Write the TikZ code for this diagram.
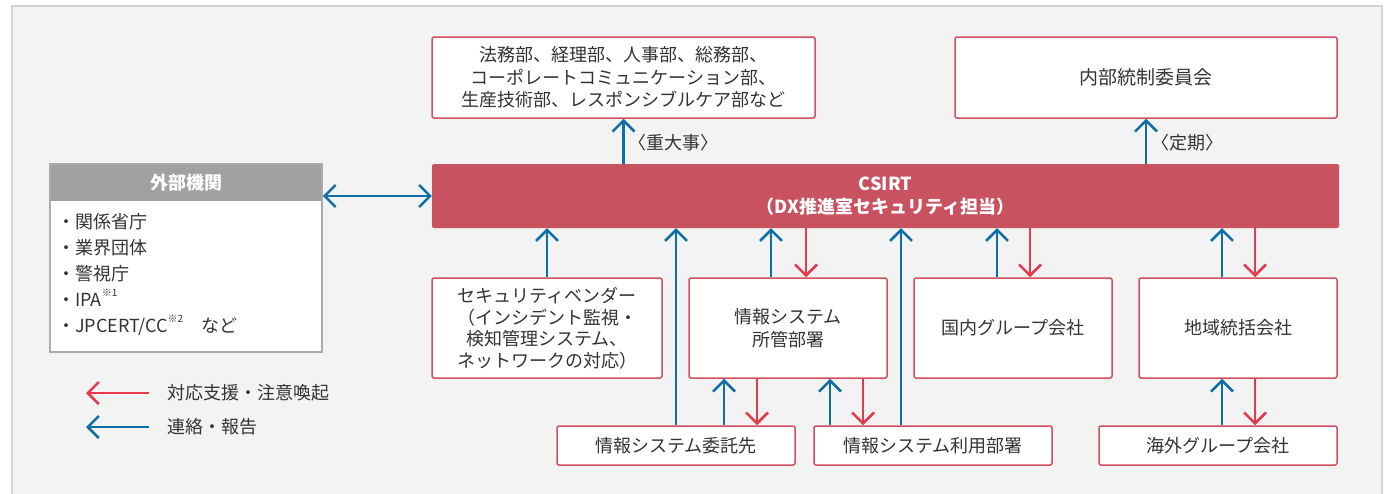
\documentclass[tikz,border=0pt]{standalone}
\usepackage{fontspec}
\setmainfont{Noto Sans CJK JP}
\usetikzlibrary{arrows.meta,calc}
\definecolor{panel}{HTML}{F3F3F3}
\definecolor{panelborder}{HTML}{D4D4D4}
\definecolor{boxred}{HTML}{D24F5F}
\definecolor{csirtfill}{HTML}{C95260}
\definecolor{arrred}{HTML}{E63A4F}
\definecolor{arrblue}{HTML}{1070A5}
\definecolor{hdrgray}{HTML}{A0A1A0}
\definecolor{gborder}{HTML}{ABABAB}
\definecolor{txt}{HTML}{333333}
\newcommand{\supnote}[1]{\raisebox{0.55em}{\fontsize{10}{10}\selectfont #1}}
\begin{document}
\begin{tikzpicture}[x=1pt,y=-1pt,
  box/.style={draw=boxred, line width=1.5pt, fill=white, rounded corners=2pt,
    align=center, text=txt, font=\fontsize{18}{22.5}\selectfont, inner sep=0pt},
  blu/.style={draw=arrblue, line width=2.5pt, -{Straight Barb[length=11pt,width=22pt]}},
  rd/.style={draw=arrred, line width=2.5pt, -{Straight Barb[length=11pt,width=22pt]}},
  lbl/.style={text=txt, font=\fontsize{18}{22}\selectfont, inner sep=0pt}
]
\useasboundingbox (0,0) rectangle (1388,493);
\fill[panel] (12,6) rectangle (1382,500);
\draw[panelborder, line width=1.2pt] (12,500) -- (12,6) -- (1382,6) -- (1382,500);

% top boxes
\node[box, minimum width=383pt, minimum height=81pt] (top1) at (623.5,77.5)
  {法務部、経理部、人事部、総務部、\\コーポレートコミュニケーション部、\\生産技術部、レスポンシブルケア部など};
\node[box, minimum width=382pt, minimum height=81pt, font=\fontsize{19}{22.5}\selectfont] (top2) at (1146,77.5) {内部統制委員会};

% CSIRT
\node[fill=csirtfill, rounded corners=2pt, minimum width=907pt, minimum height=64pt,
  align=center, text=white, font=\bfseries\fontsize{18}{23}\selectfont, inner sep=0pt]
  (csirt) at (885.5,196) {CSIRT\\（DX推進室セキュリティ担当）};

% external
\node[draw=gborder, line width=1.5pt, fill=white, minimum width=272pt, minimum height=188pt, inner sep=0pt]
  (gaibu) at (186,258) {};
\node[fill=hdrgray, minimum width=270.5pt, minimum height=36pt, inner sep=0pt, text=white,
  font=\bfseries\fontsize{18}{22}\selectfont] (gaibuhdr) at (186,182.5) {外部機関};
\node[anchor=west, align=left, text=txt, font=\fontsize{18}{26.2}\selectfont, inner sep=0pt]
  (gaibulist) at (57,274.5)
  {・関係省庁\\・業界団体\\・警視庁\\・IPA\supnote{※1}\\・JPCERT/CC\supnote{※2}\hspace{1em}など};

% middle row
\node[box, minimum width=230pt, minimum height=100pt, font=\fontsize{18}{21.5}\selectfont] (vendor) at (547,328)
  {セキュリティベンダー\\（インシデント監視・\\検知管理システム、\\ネットワークの対応）};
\node[box, minimum width=198pt, minimum height=100pt] (shozoku) at (788,328) {情報システム\\所管部署};
\node[box, minimum width=198pt, minimum height=100pt] (kokunai) at (1013,328) {国内グループ会社};
\node[box, minimum width=198pt, minimum height=100pt] (chiiki) at (1238,328) {地域統括会社};

% bottom row
\node[box, minimum width=238pt, minimum height=39pt] (itaku) at (676,445.5) {情報システム委託先};
\node[box, minimum width=238pt, minimum height=39pt] (riyo) at (933,445.5) {情報システム利用部署};
\node[box, minimum width=238pt, minimum height=39pt] (kaigai) at (1218,445.5) {海外グループ会社};

% top arrows
\draw[blu] (csirt.north -| top1.south) -- (top1.south);
\node[lbl, anchor=west] (lab1) at (628,143) {〈重大事〉};
\draw[blu] (csirt.north -| top2.south) -- (top2.south);
\node[lbl, anchor=west] (lab2) at (1151,143) {〈定期〉};

% external double arrow
\draw[draw=arrblue, line width=2.5pt, {Straight Barb[length=11pt,width=22pt]}-{Straight Barb[length=11pt,width=22pt]}]
  (csirt.west -| gaibu.east) -- (csirt.west);

% middle row to CSIRT
\draw[blu] (vendor.north) -- (vendor.north |- csirt.south);
\draw[blu] (itaku.north) -- (itaku.north |- csirt.south);
\coordinate (rl) at ($(riyo.north)+(-32,0)$);
\draw[blu] (rl) -- (rl |- csirt.south);

\coordinate (s1) at ($(shozoku.north)+(-17,0)$);
\coordinate (s2) at ($(shozoku.north)+(18,0)$);
\draw[blu] (s1) -- (s1 |- csirt.south);
\draw[rd] (s2 |- csirt.south) -- (s2);

\coordinate (k1) at ($(kokunai.north)+(-16,0)$);
\coordinate (k2) at ($(kokunai.north)+(17,0)$);
\draw[blu] (k1) -- (k1 |- csirt.south);
\draw[rd] (k2 |- csirt.south) -- (k2);

\coordinate (c1) at ($(chiiki.north)+(-16,0)$);
\coordinate (c2) at ($(chiiki.north)+(17,0)$);
\draw[blu] (c1) -- (c1 |- csirt.south);
\draw[rd] (c2 |- csirt.south) -- (c2);

% bottom row to middle row
\coordinate (i1) at ($(itaku.north)+(48,0)$);
\coordinate (i2) at ($(itaku.north)+(81,0)$);
\draw[blu] (i1) -- (i1 |- shozoku.south);
\draw[rd] (i2 |- shozoku.south) -- (i2);

\coordinate (r1) at ($(riyo.north)+(-103,0)$);
\coordinate (r2) at ($(riyo.north)+(-70,0)$);
\draw[blu] (r1) -- (r1 |- shozoku.south);
\draw[rd] (r2 |- shozoku.south) -- (r2);

\coordinate (g1) at ($(chiiki.south)+(-16,0)$);
\coordinate (g2) at ($(chiiki.south)+(17,0)$);
\draw[blu] (g1 |- kaigai.north) -- (g1);
\draw[rd] (g2) -- (g2 |- kaigai.north);

% legend
\coordinate (lr1) at (149,393);
\coordinate (lr2) at (86,393);
\draw[rd] (lr1) -- (lr2);
\node[lbl, anchor=west] (legred) at (167,393) {対応支援・注意喚起};
\coordinate (lb1) at (149,427);
\coordinate (lb2) at (86,427);
\draw[blu] (lb1) -- (lb2);
\node[lbl, anchor=west] (legblue) at (167,427) {連絡・報告};
\end{tikzpicture}
\end{document}
